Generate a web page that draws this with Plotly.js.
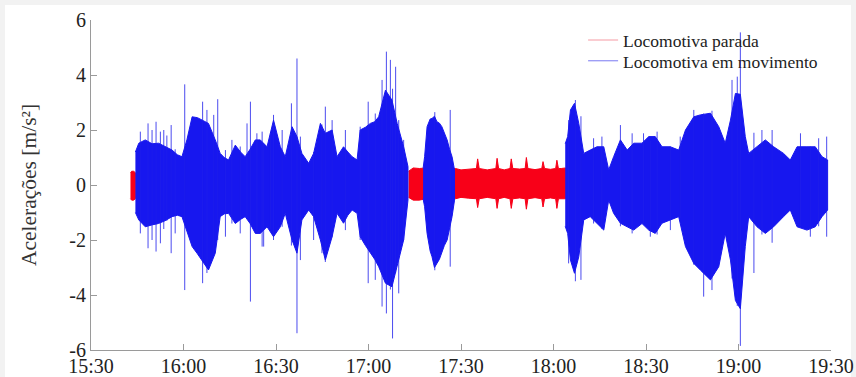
<!DOCTYPE html>
<html>
<head>
<meta charset="utf-8">
<script src="https://cdn.plot.ly/plotly-3.0.1.min.js"></script>
<style>
  html, body { margin: 0; padding: 0; background: #ffffff; }
  #chart { width: 856px; height: 377px; background: #ffffff;
           box-shadow: inset 5px 5px 0 #f2f2f2, inset -5px 0 0 #f2f2f2; }
</style>
</head>
<body>
<div id="chart"></div>
<script>
// Time axis: minutes after 15:30
const tickMinutes = [0, 30, 60, 90, 120, 150, 180, 210, 240];
const tickLabels = ["15:30", "16:00", "16:30", "17:00", "17:30", "18:00", "18:30", "19:00", "19:30"];
const yTickVals = [-6, -4, -2, 0, 2, 4, 6];
const yTickText = ["-6", "-4", "-2", "0", "2", "4", "6"];

// "Locomotiva parada" (red) envelope, segment 1
const redT1 = [12.8, 13.2, 13.8, 14.4];
const redUp1 = [0.45, 0.5, 0.5, 0.45];
const redLo1 = [-0.5, -0.55, -0.55, -0.5];

// "Locomotiva parada" (red) envelope, segment 2
const redT2 = [103.0, 104.5, 106.5, 108.5, 110.5, 112.5, 114.5, 116.5, 118.2, 120.0, 122.5, 125.0, 125.4, 125.9, 128.5, 131.3, 131.7, 132.2, 134.0, 135.9, 136.3, 136.8, 139.0, 140.8, 141.2, 141.7, 144.0, 146.2, 146.6, 147.1, 149.0, 150.7, 151.1, 151.6, 152.5, 153.9];
const redUp2 = [0.5, 0.62, 0.6, 0.62, 0.6, 0.6, 0.6, 0.6, 0.6, 0.55, 0.58, 0.6, 0.95, 0.6, 0.55, 0.6, 0.97, 0.6, 0.55, 0.6, 0.95, 0.6, 0.58, 0.6, 1.0, 0.6, 0.56, 0.6, 0.85, 0.6, 0.57, 0.6, 0.9, 0.6, 0.6, 0.62];
const redLo2 = [-0.45, -0.55, -0.55, -0.5, -0.5, -0.5, -0.5, -0.5, -0.5, -0.45, -0.48, -0.5, -0.82, -0.5, -0.45, -0.5, -0.85, -0.5, -0.45, -0.5, -0.85, -0.5, -0.47, -0.5, -0.88, -0.5, -0.46, -0.5, -0.8, -0.5, -0.47, -0.5, -0.85, -0.5, -0.5, -0.5];

// "Locomotiva em movimento" (blue) envelope, segment 1
const blueT1 = [14.4, 15.5, 17.6, 19.8, 21.9, 24.0, 26.3, 28.0, 29.5, 31.1, 32.8, 34.5, 36.0, 38.1, 40.3, 41.9, 43.2, 44.6, 46.8, 48.5, 50.0, 51.6, 53.3, 54.9, 57.1, 59.2, 61.4, 63.0, 65.2, 66.8, 68.4, 70.6, 72.2, 74.4, 76.0, 78.2, 79.8, 81.9, 83.3, 84.7, 86.3, 87.3, 89.0, 90.6, 92.0, 93.3, 95.5, 97.6, 99.3, 101.4, 102.8];
const blueUp1 = [1.2, 1.52, 1.64, 1.5, 1.52, 1.4, 1.27, 1.1, 1.03, 1.64, 2.48, 2.45, 2.36, 2.24, 1.64, 1.15, 1.0, 0.91, 1.45, 1.2, 1.03, 1.3, 1.64, 1.64, 1.39, 2.36, 1.39, 1.03, 2.12, 1.76, 1.15, 0.79, 1.15, 2.24, 1.88, 2.0, 1.03, 1.39, 1.2, 1.03, 0.91, 2.0, 2.1, 2.24, 2.3, 2.48, 3.45, 3.09, 2.24, 1.39, 0.67];
const blueLo1 = [-1.0, -1.27, -1.52, -1.45, -1.4, -1.3, -1.15, -1.1, -1.15, -1.64, -2.24, -2.5, -2.73, -3.09, -2.48, -1.15, -1.05, -1.03, -1.4, -1.25, -1.15, -1.4, -1.76, -1.76, -1.52, -1.88, -1.52, -1.03, -2.0, -2.48, -1.27, -0.91, -1.15, -2.0, -2.73, -1.88, -1.03, -1.39, -1.1, -0.91, -1.03, -1.88, -2.2, -2.48, -2.7, -2.97, -3.57, -3.7, -2.97, -2.0, -0.55];

// blue segment 2 (short burst)
const blueT2 = [107.7, 108.2, 109.0, 110.0, 110.6, 111.4, 112.2, 113.0, 113.8, 114.6, 115.5, 116.3, 117.1, 117.9];
const blueUp2 = [0.6, 1.03, 2.12, 2.4, 2.42, 2.5, 2.3, 2.25, 2.12, 1.9, 1.64, 1.3, 1.03, 0.55];
const blueLo2 = [-0.5, -0.79, -1.76, -2.4, -2.61, -3.0, -2.85, -2.7, -2.48, -2.2, -2.0, -1.6, -1.15, -0.55];

// blue segment 3
const blueT3 = [153.8, 154.6, 155.5, 156.8, 158.2, 159.8, 161.9, 164.1, 166.3, 167.9, 169.5, 171.7, 173.9, 176.0, 178.7, 180.9, 183.0, 185.2, 187.9, 190.6, 192.8, 195.5, 197.6, 200.9, 203.6, 205.7, 207.4, 209.0, 210.6, 212.2, 213.3, 216.0, 218.7, 221.4, 224.6, 226.8, 229.0, 232.2, 234.9, 237.1, 238.9];
const blueUp3 = [1.5, 1.76, 2.73, 2.97, 2.24, 1.15, 1.27, 1.39, 1.39, 0.55, 1.03, 1.64, 1.27, 1.52, 1.52, 1.76, 1.76, 1.39, 1.39, 1.27, 2.0, 2.48, 2.55, 2.61, 2.12, 1.52, 2.36, 3.33, 3.3, 1.76, 1.15, 1.39, 1.64, 1.39, 1.15, 0.91, 1.39, 1.39, 1.39, 1.03, 0.91];
const blueLo3 = [-1.5, -1.76, -2.73, -3.21, -2.61, -1.27, -1.15, -1.39, -1.64, -0.55, -1.03, -1.39, -1.52, -1.64, -1.4, -1.64, -1.76, -1.39, -1.27, -1.15, -2.24, -2.85, -3.09, -3.45, -2.97, -1.76, -2.73, -4.2, -4.5, -2.24, -1.15, -1.52, -1.76, -1.52, -1.15, -0.91, -1.52, -1.64, -1.52, -1.15, -0.91];

// isolated blue peaks (time, max, min)
const spikeT = [16.0, 18.5, 19.8, 21.1, 22.5, 23.6, 24.6, 26.0, 27.3, 30.4, 36.2, 37.6, 39.8, 41.1, 43.6, 45.7, 48.4, 50.6, 51.7, 53.8, 55.5, 56.0, 58.2, 59.2, 62.0, 65.0, 66.8, 67.9, 72.2, 74.9, 76.0, 78.2, 82.5, 87.3, 89.9, 92.2, 94.4, 95.8, 97.1, 97.8, 98.8, 99.8, 101.4, 111.5, 116.5, 154.9, 157.1, 158.9, 163.0, 165.7, 171.7, 175.5, 179.2, 181.4, 183.6, 187.9, 191.1, 195.5, 198.7, 201.4, 207.9, 209.6, 210.6, 215.0, 217.6, 220.9, 230.1, 233.3, 236.0, 238.6];
const spikeMax = [1.94, 2.24, 2.0, 2.3, 1.94, 2.0, 1.8, 2.18, 1.3, 3.66, 3.03, 2.73, 2.55, 3.12, 1.27, 1.64, 1.4, 2.24, 3.03, 1.88, 1.94, 1.5, 1.88, 2.55, 2.0, 2.97, 4.6, 1.76, 1.2, 2.2, 2.85, 2.36, 2.0, 2.12, 3.03, 2.6, 3.82, 4.85, 4.55, 3.5, 4.3, 2.36, 1.64, 2.65, 2.73, 2.36, 3.09, 2.5, 1.7, 1.76, 2.18, 1.88, 1.88, 1.6, 1.94, 1.4, 1.76, 2.73, 2.6, 2.7, 3.82, 3.94, 5.55, 1.9, 2.0, 2.0, 1.88, 1.4, 1.7, 1.76];
const spikeMin = [-1.76, -2.3, -2.0, -2.42, -2.12, -1.6, -1.3, -2.48, -1.76, -3.82, -3.57, -3.2, -2.5, -2.0, -1.88, -1.4, -1.76, -1.2, -4.24, -1.76, -2.24, -2.24, -1.6, -2.0, -1.52, -2.2, -5.39, -2.73, -2.0, -2.48, -2.8, -1.9, -1.64, -2.0, -3.57, -3.45, -4.42, -4.67, -3.8, -5.58, -3.2, -3.94, -2.0, -3.1, -2.97, -2.85, -3.5, -3.45, -1.4, -1.6, -1.5, -1.76, -1.4, -1.88, -1.8, -1.64, -1.2, -2.9, -4.06, -3.82, -3.4, -4.4, -5.85, -3.2, -1.8, -2.1, -1.5, -1.88, -1.5, -1.88];

const RED = "#f80018";
const BLUE = "#1717ef";
const FONT = "Liberation Serif";

function band(t, up, lo, color) {
  return { x: t.concat(t.slice().reverse()), y: up.concat(lo.slice().reverse()),
    type: "scatter", mode: "lines", fill: "toself", fillcolor: color, line: {color: color, width: 1},
    showlegend: false, hoverinfo: "skip" };
}
const sx = [], sy = [];
spikeT.forEach((t, i) => { sx.push(t, t, null); sy.push(spikeMin[i], spikeMax[i], null); });

const traces = [
  {x: [null], y: [null], type: "scatter", mode: "lines", name: "Locomotiva parada", legend: "legend", line: {color: "#f59aa3", width: 1}},
  {x: [null], y: [null], type: "scatter", mode: "lines", name: "Locomotiva em movimento", legend: "legend2", line: {color: "#7878f2", width: 1}},
  band(redT1, redUp1, redLo1, RED),
  band(redT2, redUp2, redLo2, RED),
  band(blueT1, blueUp1, blueLo1, BLUE),
  band(blueT2, blueUp2, blueLo2, BLUE),
  band(blueT3, blueUp3, blueLo3, BLUE),
  {x: sx, y: sy, type: "scatter", mode: "lines", line: {color: "rgba(30,30,235,0.8)", width: 1}, showlegend: false, hoverinfo: "skip"}
];
const legendBase = {x: 0.665, xanchor: "left", yanchor: "middle", bgcolor: "rgba(0,0,0,0)",
                    font: {family: FONT, size: 17.5, color: "#222222"}, itemwidth: 30};
const layout = {
  width: 856, height: 377, margin: {l: 91, r: 25, t: 20, b: 27},
  paper_bgcolor: "rgba(0,0,0,0)", plot_bgcolor: "#ffffff",
  font: {family: FONT, color: "#222222", size: 20}, showlegend: true,
  legend: Object.assign({y: 0.939}, legendBase), legend2: Object.assign({y: 0.876}, legendBase),
  xaxis: { range: [0, 240], tickmode: "array", tickvals: tickMinutes, ticktext: tickLabels,
    ticks: "inside", ticklen: 6, tickcolor: "#9a9a9a", showline: true, linecolor: "#9a9a9a",
    showgrid: false, zeroline: false, tickfont: {family: FONT, size: 20, color: "#222222"}, ticklabelstandoff: -2 },
  yaxis: { range: [-6, 6], tickmode: "array", tickvals: yTickVals, ticktext: yTickText,
    ticks: "inside", ticklen: 6, tickcolor: "#9a9a9a", showline: true, linecolor: "#9a9a9a",
    showgrid: false, zeroline: false, tickfont: {family: FONT, size: 20, color: "#222222"},
    title: {text: "Acelerações [m/s²]", font: {family: FONT, size: 21.5, color: "#333333"}, standoff: 26} }
};
Plotly.newPlot("chart", traces, layout, {displayModeBar: false, staticPlot: true});
</script>
</body>
</html>
